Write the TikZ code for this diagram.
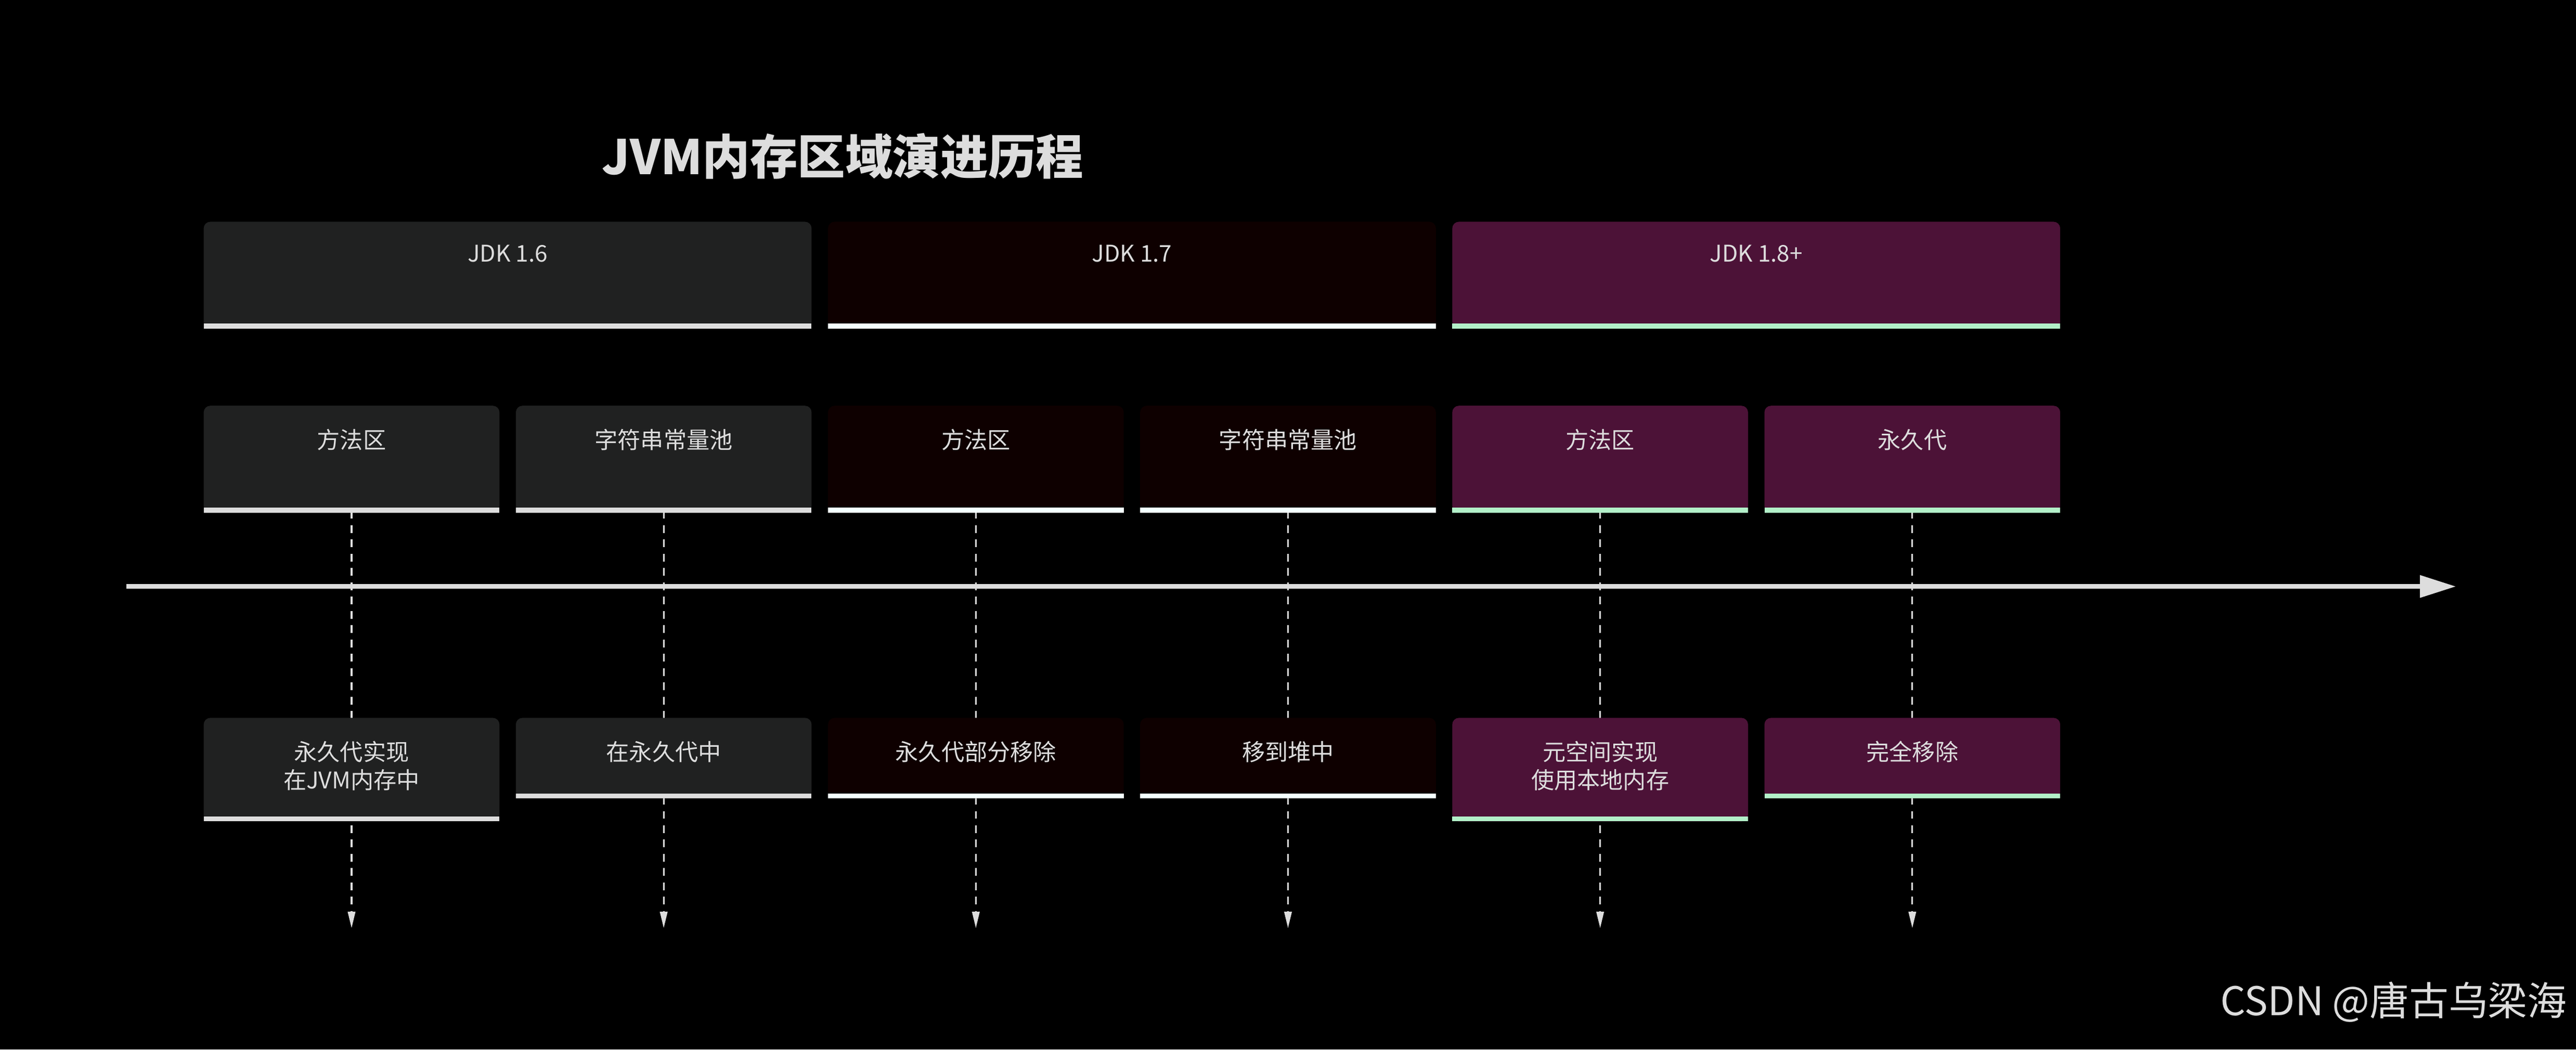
\documentclass[tikz,border=0pt]{standalone}
\usepackage{fontspec}
\setmainfont{Noto Sans CJK SC}
\usetikzlibrary{arrows.meta}
\definecolor{bgray}{HTML}{202121}
\definecolor{bred}{HTML}{0E0000}
\definecolor{bpurp}{HTML}{4C1237}
\definecolor{sgray}{HTML}{DDDDDD}
\definecolor{swhite}{HTML}{F4FFFF}
\definecolor{smint}{HTML}{B2F0C8}
\definecolor{txt}{HTML}{DDDDDD}
\tikzset{
  lbl/.style={text=txt,font=\fontsize{14}{17}\selectfont,align=center,anchor=north,inner sep=0pt},
  dashline/.style={draw=txt,line width=1pt,dash pattern=on 4.7pt off 4pt},
  dashtip/.style={-{Triangle[length=10pt,width=4.5pt]}}
}
% \bx{name}{x1}{y1}{x2}{y2}{fill}{stripe}{text}
\newcommand{\bx}[8]{%
  \fill[#6,rounded corners=4pt] (#2,#5) -- (#2,#3) -- (#4,#3) -- (#4,#5) -- cycle;
  \fill[#7] (#2,#5-3) rectangle (#4,#5);
  \node[lbl] (#1) at ({(#2+#4)/2},#3+14) {#8};
  \coordinate (#1-t) at ({(#2+#4)/2},#3);
  \coordinate (#1-b) at ({(#2+#4)/2},#5);
}
\begin{document}
\begin{tikzpicture}[x=1pt,y=-1pt]
\fill[black] (0,0) rectangle (1568,639);
\useasboundingbox (0,0) rectangle (1568,639);
\node[text=txt,font=\bfseries\fontsize{29}{32}\selectfont] (title) at (513,95) {JVM内存区域演进历程};
% top row
\bx{j6}{124}{135}{494}{200}{bgray}{sgray}{JDK 1.6}
\bx{j7}{504}{135}{874}{200}{bred}{swhite}{JDK 1.7}
\bx{j8}{884}{135}{1254}{200}{bpurp}{smint}{JDK 1.8+}
% dashed connectors (behind)
\coordinate (e1) at (214,565);
\coordinate (e2) at (404,565);
\coordinate (e3) at (594,565);
\coordinate (e4) at (784,565);
\coordinate (e5) at (974,565);
\coordinate (e6) at (1164,565);
\coordinate (m1-b) at (214,311);
\coordinate (m2-b) at (404,311);
\coordinate (m3-b) at (594,311);
\coordinate (m4-b) at (784,311);
\coordinate (m5-b) at (974,311);
\coordinate (m6-b) at (1164,311);
\foreach \i in {1,...,6}{
  \draw[dashline,dashtip] (m\i-b) -- (e\i);
}
% middle row
\bx{m1}{124}{247}{304}{312}{bgray}{sgray}{方法区}
\bx{m2}{314}{247}{494}{312}{bgray}{sgray}{字符串常量池}
\bx{m3}{504}{247}{684}{312}{bred}{swhite}{方法区}
\bx{m4}{694}{247}{874}{312}{bred}{swhite}{字符串常量池}
\bx{m5}{884}{247}{1064}{312}{bpurp}{smint}{方法区}
\bx{m6}{1074}{247}{1254}{312}{bpurp}{smint}{永久代}
% timeline
\coordinate (tl0) at (77,357);
\coordinate (tl1) at (1495,357);
\draw[sgray,line width=3pt,-{Triangle[length=22pt,width=13pt]}] (tl0) -- (tl1);
% bottom row
\bx{b1}{124}{437}{304}{500}{bgray}{sgray}{永久代实现\\在JVM内存中}
\bx{b2}{314}{437}{494}{486}{bgray}{sgray}{在永久代中}
\bx{b3}{504}{437}{684}{486}{bred}{swhite}{永久代部分移除}
\bx{b4}{694}{437}{874}{486}{bred}{swhite}{移到堆中}
\bx{b5}{884}{437}{1064}{500}{bpurp}{smint}{元空间实现\\使用本地内存}
\bx{b6}{1074}{437}{1254}{486}{bpurp}{smint}{完全移除}
\node[text=txt,font=\fontsize{24}{28}\selectfont,anchor=east] (wm) at (1566,610) {CSDN @唐古乌梁海};
\end{tikzpicture}
\end{document}
